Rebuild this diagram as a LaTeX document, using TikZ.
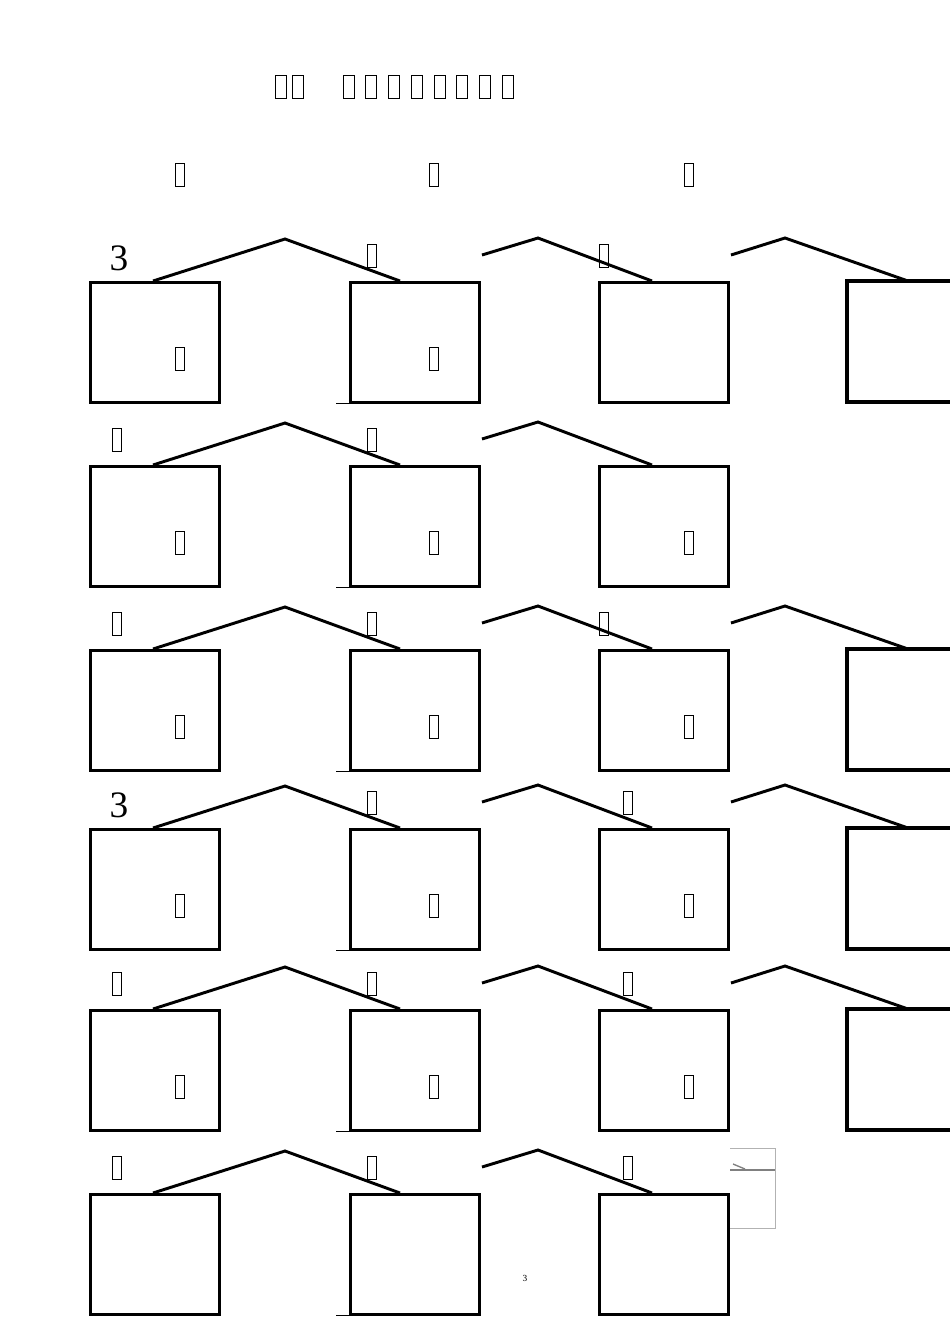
\documentclass[tikz,border=0pt]{standalone}
\usepackage{fontspec}
\setmainfont{Liberation Serif}
\begin{document}
\begin{tikzpicture}[x=0.75pt,y=-0.75pt,
  box/.style={draw,line width=2.3pt},
  roof/.style={line width=2.2pt},
  gbox/.style={draw,line width=0.9pt,minimum width=7pt,minimum height=17pt,inner sep=0pt},
  num/.style={font=\fontsize{28}{28}\selectfont,inner sep=0pt}]
\useasboundingbox (0,0) rectangle (950,1343);
% title
\foreach \x [count=\i] in {281,298,349,371,394,417,440,462,485,508}
  \node[gbox,minimum width=8pt] (t\i) at (\x,87) {};
\foreach \x [count=\i] in {180,434,689}
  \node[gbox] (h\i) at (\x,175) {};
% boxes
\foreach \t [count=\r] in {281,465,649,828,1009,1193}{
  \node[box,minimum width=97pt,minimum height=90pt,anchor=north west] (a\r) at (89,\t) {};
  \node[box,minimum width=97pt,minimum height=90pt,anchor=north west] (b\r) at (349,\t) {};
  \node[box,minimum width=97pt,minimum height=90pt,anchor=north west] (c\r) at (598,\t) {};
  \draw[roof] (153,\t) -- (285,\t-42) -- (400,\t);
  \draw[line width=0.5pt] (336,\t+122) -- (349,\t+122);
}
% fourth column boxes (cut at right edge)
\foreach \t in {281,649,828,1009}{
  \draw[box] (950,\t) -- (847,\t) -- (847,\t+121) -- (950,\t+121);
}
% second and third roofs
\foreach \t in {281,465,649,828,1009,1193}
  \draw[roof] (482,\t-26) -- (538,\t-43) -- (652,\t);
\foreach \t in {281,649,828,1009}
  \draw[roof] (731,\t-26) -- (785,\t-43) -- (908,\t);
% small grey box at bottom
\draw[gray!60,line width=0.6pt] (730,1148) -- (775,1148) -- (775,1228) -- (730,1228);
\draw[gray,line width=1pt] (730,1170) -- (775,1170);
\draw[gray,line width=1pt] (733,1164) -- (745,1169);
% labels
\node[num] (n1) at (119,258) {3};
\node[num] (n4) at (119,805) {3};
\foreach \t [count=\r] in {465,649,1009,1193}
  \node[gbox] at (117,\t-25) {};
\foreach \t in {281,465,649,828,1009,1193}
  \node[gbox] at (372,\t-25) {};
\foreach \t in {281,649}
  \node[gbox] at (604,\t-25) {};
\foreach \t in {828,1009,1193}
  \node[gbox] at (628,\t-25) {};
\foreach \t in {281,465,649,828,1009}{
  \node[gbox] at (180,\t+78) {};
  \node[gbox] at (434,\t+78) {};
}
\foreach \t in {465,649,828,1009}
  \node[gbox] at (689,\t+78) {};
\node[font=\scriptsize] (pg) at (525,1278) {3};
\end{tikzpicture}
\end{document}
